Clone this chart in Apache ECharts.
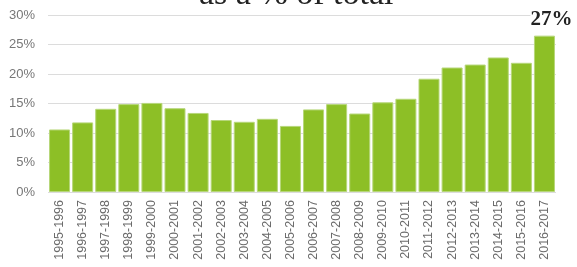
<!DOCTYPE html>
<html>
<head>
<meta charset="utf-8">
<script src="https://cdn.jsdelivr.net/npm/echarts@6/dist/echarts.min.js"></script>
<style>
  html, body { margin: 0; padding: 0; background: #fff; }
  #chart { width: 577px; height: 267px; }
</style>
</head>
<body>
<div id="chart"></div>
<script>
// school years on the x axis
const years = [
  '1995-1996', '1996-1997', '1997-1998', '1998-1999', '1999-2000', '2000-2001',
  '2001-2002', '2002-2003', '2003-2004', '2004-2005', '2005-2006', '2006-2007',
  '2007-2008', '2008-2009', '2009-2010', '2010-2011', '2011-2012', '2012-2013',
  '2013-2014', '2014-2015', '2015-2016', '2016-2017'
]
// share of total, in %
const shares = [
  10.6, 11.8, 14.1, 14.9, 15.1, 14.2, 13.4, 12.2, 11.9, 12.4, 11.2,
  14.0, 14.9, 13.3, 15.2, 15.8, 19.2, 21.1, 21.6, 22.8, 21.9, 26.5
]
const yTicks = [0, 5, 10, 15, 20, 25, 30]
const lastLabel = '27%'

const chart = echarts.init(document.getElementById('chart'))

chart.setOption({
  animation: false,
  graphic: [{
    type: 'text',
    left: 199,
    top: -22,
    style: {
      text: 'as a % of total',
      font: '34px "Liberation Serif", "DejaVu Serif", serif',
      fill: '#222'
    }
  }],
  grid: { left: 48, right: 21, top: 15, bottom: 75 },
  xAxis: {
    type: 'category',
    data: years,
    axisTick: { show: false },
    axisLine: { show: false },
    axisLabel: {
      rotate: 90,
      interval: 0,
      margin: 8,
      color: '#6a6a6a',
      fontSize: 12.5,
      fontFamily: '"Liberation Sans", Arial, sans-serif'
    }
  },
  yAxis: {
    type: 'value',
    min: yTicks[0],
    max: yTicks[yTicks.length - 1],
    interval: 5,
    axisLabel: {
      formatter: '{value}%',
      margin: 13,
      color: '#777',
      fontSize: 13,
      fontFamily: '"Liberation Sans", Arial, sans-serif'
    },
    splitLine: { lineStyle: { color: '#dcdcdc', width: 1 } }
  },
  series: [{
    type: 'bar',
    data: shares.map((v, i) => i === shares.length - 1
      ? {
          value: v,
          label: {
            show: true,
            position: 'top',
            distance: 6,
            offset: [7, 0],
            formatter: lastLabel,
            fontSize: 21,
            fontWeight: 'bold',
            color: '#222',
            backgroundColor: '#fff',
            fontFamily: '"Liberation Serif", "DejaVu Serif", serif'
          }
        }
      : v),
    barCategoryGap: '9%',
    itemStyle: {
      color: '#8dbf26',
      borderColor: '#b7d77a',
      borderWidth: 1
    }
  }]
})
</script>
</body>
</html>
